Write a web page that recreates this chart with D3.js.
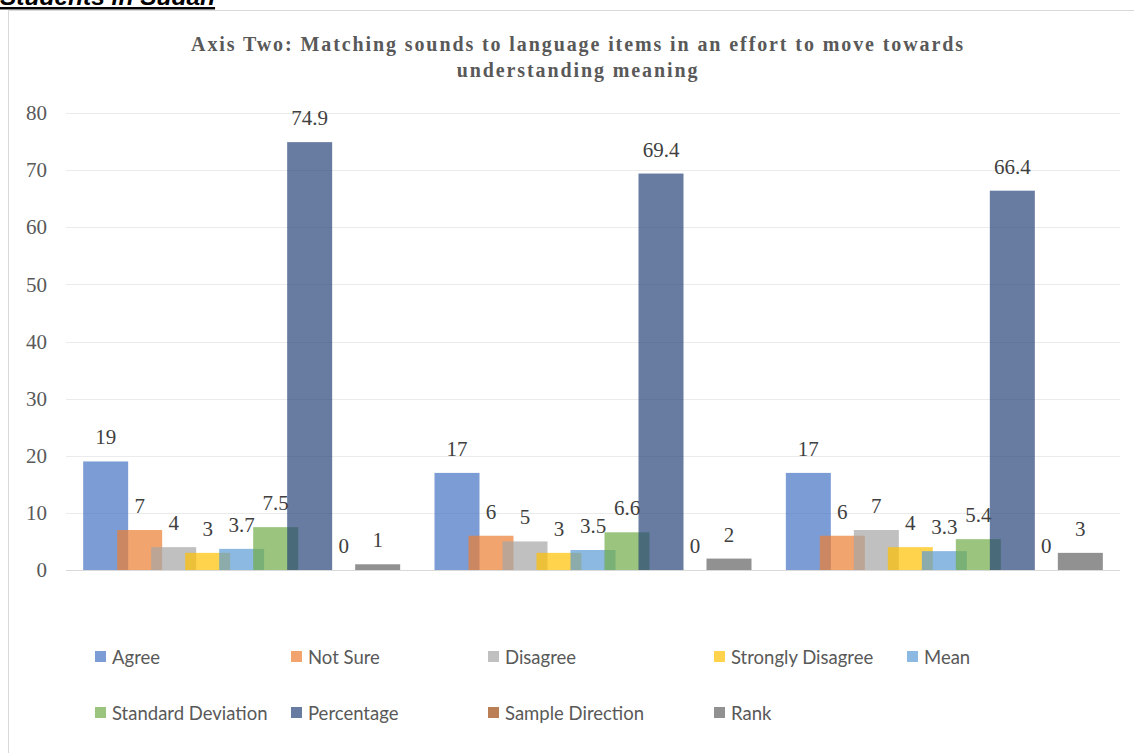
<!DOCTYPE html>
<html>
<head>
<meta charset="utf-8">
<script src="https://cdn.jsdelivr.net/npm/d3@7"></script>
<style>
  body { margin: 0; background: #fff; }
  svg { display: block; }
</style>
</head>
<body>
<div id="chart"></div>
<script>
// Data
const categories = ["Item 1", "Item 2", "Item 3"];
const seriesNames = ["Agree", "Not Sure", "Disagree", "Strongly Disagree", "Mean",
  "Standard Deviation", "Percentage", "Sample Direction", "Rank"];
const agree = [19, 17, 17];
const notSure = [7, 6, 6];
const disagree = [4, 5, 7];
const stronglyDisagree = [3, 3, 4];
const mean = [3.7, 3.5, 3.3];
const stdDev = [7.5, 6.6, 5.4];
const percentage = [74.9, 69.4, 66.4];
const sampleDirection = [0, 0, 0];
const rank = [1, 2, 3];
const yTicks = [0, 10, 20, 30, 40, 50, 60, 70, 80];

const seriesValues = [agree, notSure, disagree, stronglyDisagree, mean,
  stdDev, percentage, sampleDirection, rank];
const seriesColors = ["#4472C4", "#ED7D31", "#A5A5A5", "#FFC000", "#5B9BD5",
  "#70AD47", "#264478", "#9E480E", "#636363"];

const W = 1134, H = 753;
const plot = { left: 66, right: 1120, top: 113, bottom: 570 };
const serif = "'Liberation Serif', 'Times New Roman', serif";

const svg = d3.select("#chart").append("svg")
  .attr("width", W).attr("height", H);

// Page heading (cut off at the top, as in the source)
svg.append("text")
  .attr("x", 0).attr("y", 5)
  .attr("font-family", "'Liberation Sans', Arial, sans-serif")
  .attr("font-size", "24.5px").attr("font-weight", "bold").attr("font-style", "italic")
  .attr("text-decoration", "underline")
  .attr("fill", "#000")
  .text("Students in Sudan");

// Chart frame
svg.append("path")
  .attr("d", `M8.5,${H} V10.5 H${W}`)
  .attr("fill", "none").attr("stroke", "#D9D9D9").attr("stroke-width", 1);

// Title
const title = svg.append("text")
  .attr("text-anchor", "middle")
  .attr("font-family", serif)
  .attr("font-size", "20px").attr("font-weight", "bold")
  .attr("letter-spacing", "1.9px")
  .attr("fill", "#595959");
title.append("tspan").attr("x", 578).attr("y", 51)
  .text("Axis Two: Matching sounds to language items in an effort to move towards");
title.append("tspan").attr("x", 578).attr("y", 77)
  .text("understanding meaning");

// Scales
const y = d3.scaleLinear().domain([0, 80]).range([plot.bottom, plot.top]);
const x0 = d3.scaleBand().domain(categories).range([plot.left, plot.right]).padding(0);
const barW = 45;
const x1 = d3.scalePoint().domain(seriesNames).range([-136, 136]);

// Gridlines
svg.append("g")
  .selectAll("line")
  .data(yTicks)
  .join("line")
  .attr("x1", plot.left).attr("x2", plot.right)
  .attr("y1", d => Math.round(y(d)) + 0.5).attr("y2", d => Math.round(y(d)) + 0.5)
  .attr("stroke", d => d === 0 ? "#D9D9D9" : "#EBEBEB")
  .attr("stroke-width", 1);

// Y axis labels
const yAxis = svg.append("g")
  .attr("transform", `translate(${plot.left - 19},0)`)
  .call(d3.axisLeft(y).tickValues(yTicks).tickSize(0).tickPadding(0));
yAxis.select(".domain").remove();
yAxis.selectAll("text")
  .attr("font-family", serif)
  .attr("font-size", "21px")
  .attr("fill", "#595959");

// Bars
const bars = svg.append("g");
seriesNames.forEach((name, si) => {
  const g = bars.append("g");
  g.selectAll("rect")
    .data(categories.map((c, i) => ({ c, v: seriesValues[si][i] })))
    .join("rect")
    .attr("x", d => x0(d.c) + x0.bandwidth() / 2 + x1(name) - barW / 2)
    .attr("y", d => y(d.v))
    .attr("width", barW)
    .attr("height", d => y(0) - y(d.v))
    .attr("fill", seriesColors[si])
    .attr("fill-opacity", 0.7);
});

// Data labels
const labels = svg.append("g")
  .attr("font-family", serif)
  .attr("font-size", "21px")
  .attr("fill", "#404040")
  .attr("text-anchor", "middle");
seriesNames.forEach((name, si) => {
  labels.append("g").selectAll("text")
    .data(categories.map((c, i) => ({ c, v: seriesValues[si][i] })))
    .join("text")
    .attr("x", d => x0(d.c) + x0.bandwidth() / 2 + x1(name))
    .attr("y", d => y(d.v) - 17)
    .text(d => d.v);
});

// Legend
const legendCols = [95, 291, 488, 714, 907];
const legendRows = [657, 713];
const legend = svg.append("g")
  .attr("font-family", "Lato, 'Noto Sans', sans-serif")
  .attr("font-size", "18.5px")
  .attr("fill", "#595959");
seriesNames.forEach((name, i) => {
  const cx = legendCols[i % 5], cy = legendRows[Math.floor(i / 5)];
  const item = legend.append("g").attr("transform", `translate(${cx},${cy})`);
  item.append("rect")
    .attr("x", 0).attr("y", -6).attr("width", 11).attr("height", 11)
    .attr("fill", seriesColors[i]).attr("fill-opacity", 0.7);
  item.append("text")
    .attr("x", 17).attr("y", 6.5)
    .text(name);
});
</script>
</body>
</html>
